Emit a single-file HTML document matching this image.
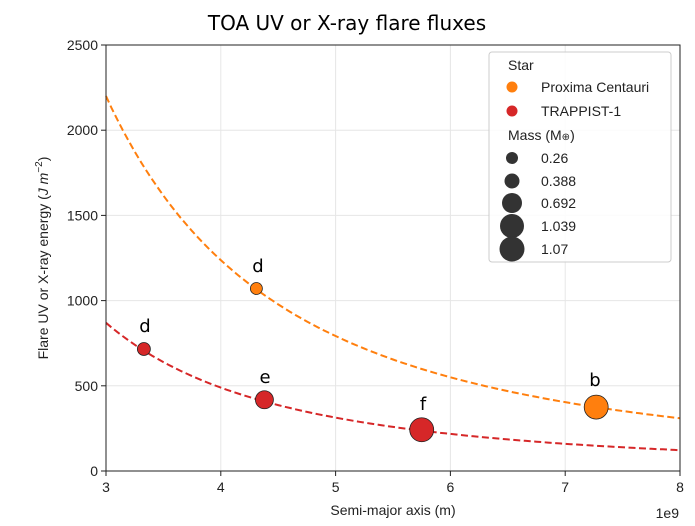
<!DOCTYPE html>
<html><head><meta charset="utf-8"><style>
body{margin:0;background:#fff}
svg{display:block;font-family:"Liberation Sans",sans-serif}
</style></head><body>
<svg id="s" width="695" height="526" viewBox="0 0 695 526">
<text x="347" y="30" font-size="20" text-anchor="middle" fill="#000" font-family="DejaVu Sans, Liberation Sans, sans-serif">TOA UV or X-ray flare fluxes</text>
<g id="grid" stroke="#e6e6e6" stroke-width="1"></g>
<g id="curves"></g>
<g id="pts" stroke="#222" stroke-width="0.8"></g>
<rect x="106" y="45" width="574" height="426" fill="none" stroke="#222" stroke-width="1"/>
<g id="ticks" font-size="14" fill="#222"></g>
<text x="393" y="515" font-size="14" text-anchor="middle" fill="#222">Semi-major axis (m)</text>
<text x="679" y="518" font-size="14" text-anchor="end" fill="#222">1e9</text>
<text transform="translate(48,258) rotate(-90)" font-size="14" text-anchor="middle" fill="#222">Flare UV or X-ray energy (<tspan font-style="italic">J m</tspan><tspan font-size="10" dy="-6">−2</tspan><tspan dy="6">)</tspan></text>
<g font-size="18" text-anchor="middle" fill="#000" font-family="DejaVu Sans, Liberation Sans, sans-serif">
<text x="258" y="272">d</text><text x="595" y="386">b</text>
<text x="145" y="332">d</text><text x="265" y="383">e</text><text x="423" y="410">f</text>
</g>
<rect x="489" y="52" width="182" height="210" rx="3" fill="#fff" fill-opacity="0.85" stroke="#ccc"/>
<g font-size="14" fill="#222">
<text x="508" y="70">Star</text>
<circle cx="512" cy="87" r="5.5" fill="#ff7f0e"/><text x="541" y="92">Proxima Centauri</text>
<circle cx="512" cy="111" r="5.5" fill="#d62728"/><text x="541" y="116">TRAPPIST-1</text>
<text x="508" y="140">Mass (M<tspan font-size="10">⊕</tspan>)</text>
<circle cx="512" cy="158" r="6" fill="#333"/><text x="541" y="163">0.26</text>
<circle cx="512" cy="181" r="7.5" fill="#333"/><text x="541" y="186">0.388</text>
<circle cx="512" cy="203" r="10" fill="#333"/><text x="541" y="208">0.692</text>
<circle cx="512" cy="226" r="12" fill="#333"/><text x="541" y="231">1.039</text>
<circle cx="512" cy="249" r="12.5" fill="#333"/><text x="541" y="254">1.07</text>
</g>
</svg>
<script>
var NS="http://www.w3.org/2000/svg";
function X(v){return 106+(v-3)*114.8}
function Y(v){return 471-v*0.1704}
function el(p,t,a,txt){var e=document.createElementNS(NS,t);for(var k in a)e.setAttribute(k,a[k]);if(txt!=null)e.textContent=txt;document.getElementById(p).appendChild(e);return e}
for(var i=3;i<=8;i++){var x=X(i);el("grid","line",{x1:x,x2:x,y1:45,y2:471});
el("ticks","line",{x1:x,x2:x,y1:471,y2:476,stroke:"#222"});el("ticks","text",{x:x,y:492,"text-anchor":"middle"},i);}
for(var v=0;v<=2500;v+=500){var y=Y(v);el("grid","line",{x1:106,x2:680,y1:y,y2:y});
el("ticks","line",{x1:101,x2:106,y1:y,y2:y,stroke:"#222"});el("ticks","text",{x:98,y:y+5,"text-anchor":"end"},v);}
function curve(C,col){var d="";for(var a=3;a<=8.0001;a+=0.05){d+=(d?"L":"M")+X(a).toFixed(1)+","+Y(C/(a*a)).toFixed(1)}
el("curves","path",{d:d,fill:"none",stroke:col,"stroke-width":2,"stroke-dasharray":"7,3.5"});}
curve(19800,"#ff7f0e");curve(7830,"#d62728");
[[4.31,1071,6,"#ff7f0e"],[7.27,375,12,"#ff7f0e"],[3.33,716,6.5,"#d62728"],[4.38,418,9,"#d62728"],[5.75,242,12,"#d62728"]].forEach(function(p){
el("pts","circle",{cx:X(p[0]),cy:Y(p[1]),r:p[2],fill:p[3]});});
</script>
</body></html>
